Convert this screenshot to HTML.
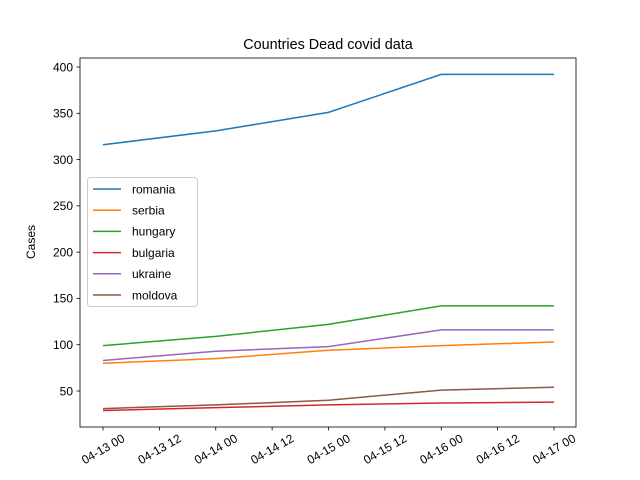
<!DOCTYPE html>
<html><head><meta charset="utf-8"><style>
body{margin:0;background:#fff;}
svg{display:block;font-family:"Liberation Sans","DejaVu Sans",sans-serif;}
</style></head><body>
<svg id="chart" width="640" height="480" xmlns="http://www.w3.org/2000/svg">
<rect width="640" height="480" fill="#fff"/>
<text x="328" y="49" text-anchor="middle" font-size="14.4">Countries Dead covid data</text>
<text transform="translate(35,242) rotate(-90)" text-anchor="middle" font-size="12">Cases</text>
<g id="grid"></g>
<g id="lines"></g>
<rect x="80" y="58" width="496" height="369" fill="none" stroke="#000" stroke-width="0.8"/>
<g id="legend"></g>
</svg>
<script>
const categories=[0,1,2,3,4];
const xTicks=["04-13 00","04-13 12","04-14 00","04-14 12","04-15 00","04-15 12","04-16 00","04-16 12","04-17 00"];
const yTicks=[50,100,150,200,250,300,350,400];
const seriesNames=["romania","serbia","hungary","bulgaria","ukraine","moldova"];
const colors=["#1f77b4","#ff7f0e","#2ca02c","#d62728","#9467bd","#8c564b"];
const romania=[316,331,351,392,392];
const serbia=[80,85,94,99,103];
const hungary=[99,109,122,142,142];
const bulgaria=[29,32,35,37,38];
const ukraine=[83,93,98,116,116];
const moldova=[31,35,40,51,54];
const allSeries=[romania,serbia,hungary,bulgaria,ukraine,moldova];
const NS="http://www.w3.org/2000/svg";
const xs=d=>103+d*112.75;
const ys=v=>391-(v-50)*0.9257;
function mk(tag,attrs,parent){const e=document.createElementNS(NS,tag);for(const k in attrs)e.setAttribute(k,attrs[k]);parent.appendChild(e);return e;}
const grid=document.getElementById('grid');
xTicks.forEach((t,i)=>{const x=xs(i/2);
const l=mk('line',{x1:x,x2:x,y1:427,y2:430.5,stroke:'#000','stroke-width':0.8},grid);


const tx=mk('text',{x:0,y:0,'font-size':12,'text-anchor':'middle',transform:`translate(${x},${449}) rotate(-30)`,dy:'0.35em'},grid);tx.textContent=t;


});
yTicks.forEach(v=>{const y=ys(v);
const l=mk('line',{x1:76.5,x2:80,y1:y,y2:y,stroke:'#000','stroke-width':0.8},grid);


const tx=mk('text',{x:73,y:y+4.3,'font-size':12,'text-anchor':'end'},grid);tx.textContent=v;


});
const lines=document.getElementById('lines');
allSeries.forEach((s,i)=>{const p=mk('polyline',{points:s.map((v,j)=>xs(categories[j])+','+ys(v)).join(' '),fill:'none',stroke:colors[i],'stroke-width':1.5},lines);


});
const lg=document.getElementById('legend');
const box=mk('rect',{x:87.5,y:177.5,width:110,height:129,rx:3,fill:'#fff','fill-opacity':0.8,stroke:'#ccc','stroke-width':1},lg);


seriesNames.forEach((n,i)=>{const y=189+i*21.2;
const g=mk('g',{},lg);


mk('line',{x1:93,x2:121,y1:y,y2:y,stroke:colors[i],'stroke-width':1.5},g);
const t=mk('text',{x:132,y:y+4.3,'font-size':12},g);t.textContent=n;});
</script>
</body></html>
